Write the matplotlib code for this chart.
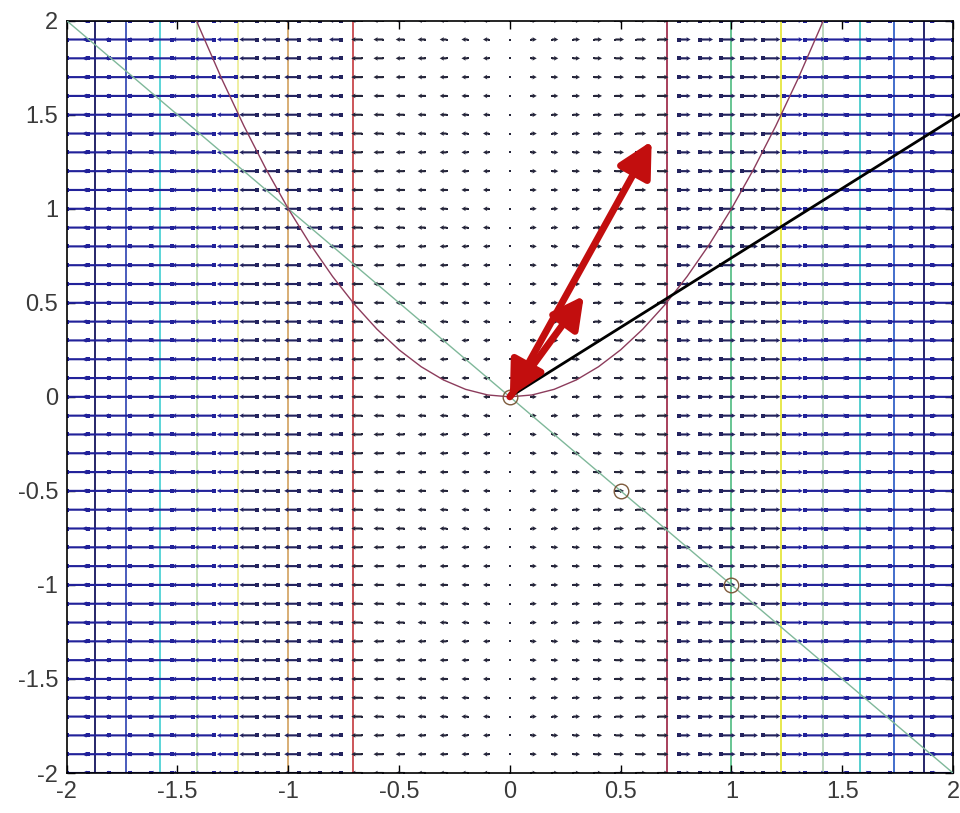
import matplotlib
matplotlib.use("Agg")
import matplotlib.pyplot as plt
from matplotlib.patches import FancyArrowPatch
import numpy as np

plt.rcParams['font.family'] = ['Liberation Sans', 'DejaVu Sans']

# grid of the vector field (columns / rows)
grid_x = np.linspace(-2, 2, 43)
grid_y = np.linspace(-2, 2, 41)

# horizontal arrow length for the columns x >= 0 (left half is the mirror)
arrow_len_right = [0.0, 0.026, 0.028, 0.031, 0.035, 0.039, 0.044, 0.049, 0.054, 0.060, 0.066,
                   0.072, 0.078, 0.084, 0.090, 0.096, 0.102, 0.108, 0.114, 0.120, 0.126, 0.132]

# level lines x^2 = 0.5 ... 3.5
level_x = [-1.871, -1.732, -1.581, -1.414, -1.225, -1.0, -0.707,
           0.707, 1.0, 1.225, 1.414, 1.581, 1.732, 1.871]
level_colors = ['#15155e', '#3a4fb8', '#4fd2d6', '#c6e2b4', '#eeee9a', '#d6a86a', '#c8484c',
                '#a0304e', '#5cc08a', '#e6e640', '#b8d4b8', '#48cccc', '#3462c8', '#15155e']

# parabola y = x^2
para_x = [-1.42, -1.4, -1.3, -1.2, -1.1, -1.0, -0.9, -0.8, -0.7, -0.6, -0.5, -0.4, -0.3, -0.2,
          -0.1, 0.0, 0.1, 0.2, 0.3, 0.4, 0.5, 0.6, 0.7, 0.8, 0.9, 1.0, 1.1, 1.2, 1.3, 1.4, 1.42]
para_y = [2.0164, 1.96, 1.69, 1.44, 1.21, 1.0, 0.81, 0.64, 0.49, 0.36, 0.25, 0.16, 0.09, 0.04,
          0.01, 0.0, 0.01, 0.04, 0.09, 0.16, 0.25, 0.36, 0.49, 0.64, 0.81, 1.0, 1.21, 1.44, 1.69,
          1.96, 2.0164]

# line y = -x and the marked points on it
diag_x = [-2, 2]
diag_y = [2, -2]
pts_x = [0, 0.5, 1.0]
pts_y = [0, -0.5, -1.0]

# black ray from the origin
ray_x = [0, 2.03]
ray_y = [0, 1.5]

# red vectors (tip coordinates), the long one is double headed
big_vec = (0.64, 1.36)
small_vec = (0.334, 0.537)

fig = plt.figure(figsize=(9.6, 8.13), dpi=100)
ax = fig.add_axes([66.7 / 960, 40 / 813, (953 - 66.7) / 960, (773 - 20.7) / 813])

# level lines
for xv, c in zip(level_x, level_colors):
    ax.axvline(xv, color=c, lw=1.3, zorder=1)

# vector field: dark dashes in the middle, heavier blue further out
U_row = np.concatenate([-np.array(arrow_len_right[:0:-1]), np.array(arrow_len_right)])
X, Y = np.meshgrid(grid_x, grid_y)
U = np.tile(U_row, (len(grid_y), 1))
V = np.zeros_like(U)
ax_abs = np.abs(X)
bands = [
    (ax_abs <= 0.75, '#25253a', 0.0024, 1.8),
    ((ax_abs > 0.75) & (ax_abs <= 1.15), '#23235e', 0.0024, 2.2),
    (ax_abs > 1.15, '#22229a', 0.0024, 2.8),
]
for mask, col, w, ms in bands:
    ax.quiver(X[mask], Y[mask], U[mask], V[mask], angles='xy', scale_units='xy', scale=1,
              pivot='tail', color=col, width=w, headwidth=2.2, headlength=2.0,
              headaxislength=1.8, minlength=0.3, zorder=2)
    ax.plot(X[mask], Y[mask], 's', ms=ms, color=col, mew=0, zorder=2)

ax.plot(diag_x, diag_y, color='#7fb89a', lw=1.0, zorder=3)
ax.plot(para_x, para_y, color='#8c3c5c', lw=1.0, zorder=3)
ax.plot(pts_x, pts_y, 'o', ms=10.5, mfc='none', mec='#7d5a3c', mew=1.0, zorder=4)

ax.plot(ray_x, ray_y, color='black', lw=2.0, clip_on=False, zorder=5)

red = '#c20e0e'
ax.add_patch(FancyArrowPatch((0, 0), big_vec, arrowstyle='<|-|>,head_length=21,head_width=11',
                             mutation_scale=1, lw=5, color=red, shrinkA=0, shrinkB=0,
                             clip_on=False, zorder=6))
ax.add_patch(FancyArrowPatch((0, 0), small_vec, arrowstyle='-|>,head_length=19,head_width=10',
                             mutation_scale=1, lw=5, color=red, shrinkA=0, shrinkB=0,
                             clip_on=False, zorder=6))

ticks = [-2, -1.5, -1, -0.5, 0, 0.5, 1, 1.5, 2]
tick_labels = ['-2', '-1.5', '-1', '-0.5', '0', '0.5', '1', '1.5', '2']
ax.set_xlim(-2, 2)
ax.set_ylim(-2, 2)
ax.set_xticks(ticks)
ax.set_yticks(ticks)
ax.set_xticklabels(tick_labels)
ax.set_yticklabels(tick_labels)
ax.tick_params(direction='in', top=True, right=True, length=6, width=1,
               labelsize=17, labelcolor='#3a3a3a', pad=6)
for s in ax.spines.values():
    s.set_linewidth(1.2)

fig.savefig('out.png', dpi=100)
